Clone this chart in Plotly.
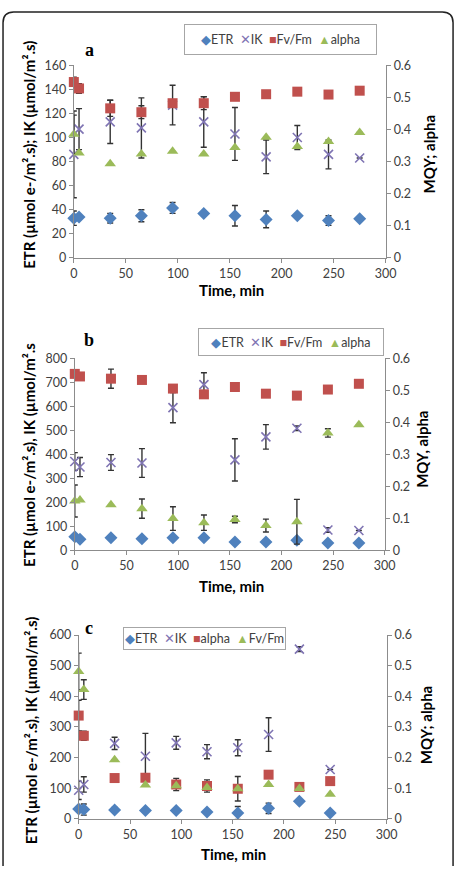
import plotly.graph_objects as go

W, H = 465, 873

# ---------------- data ----------------
t_ab = [0, 5, 35, 65, 95, 125, 155, 185, 215, 245, 275]
t_c = [0, 5, 35, 65, 95, 125, 155, 185, 215, 245]

# panel a
etr_a = [33, 34, 33, 35, 41.5, 37, 35, 32, 35, 31, 32.5]
etr_a_err = [6, 0, 4, 5, 4.5, 0, 8.5, 7, 0, 4, 0]
ik_a = [86, 107, 113, 108, 127, 113, 103, 84, 100, 86, 83]
ik_a_err = [36, 17, 18, 25, 16.5, 21, 22, 14, 10, 12, 0]
fv_a = [0.548, 0.528, 0.466, 0.454, 0.482, 0.482, 0.502, 0.510, 0.518, 0.509, 0.521]
fv_a_err = [0.015, 0.015, 0.025, 0.02, 0, 0.02, 0, 0, 0, 0.01, 0]
alpha_a = [0.385, 0.327, 0.293, 0.324, 0.332, 0.324, 0.344, 0.376, 0.347, 0.363, 0.391]
alpha_a_err = [0.06, 0, 0, 0, 0, 0, 0, 0, 0, 0, 0]

# panel b
etr_b = [56, 46, 52, 48, 52, 52, 34, 34, 41, 30, 30]
etr_b_err = [10, 0, 0, 0, 0, 0, 0, 8, 10, 0, 0]
ik_b = [370, 347, 366, 364, 595, 691, 377, 473, 509, 84, 82]
ik_b_err = [37, 40, 33, 60, 63, 50, 88, 51, 10, 10, 0]
fv_b = [0.552, 0.544, 0.537, 0.533, 0.506, 0.488, 0.511, 0.490, 0.484, 0.503, 0.521]
fv_b_err = [0, 0, 0.03, 0, 0, 0, 0, 0, 0, 0.01, 0]
alpha_b = [0.154, 0.157, 0.142, 0.130, 0.099, 0.086, 0.096, 0.077, 0.089, 0.367, 0.393]
alpha_b_err = [0.05, 0, 0, 0.03, 0.037, 0.024, 0.01, 0.02, 0.07, 0.013, 0]

# panel c
etr_c = [32, 30, 29, 27, 27, 22.5, 19, 34, 57, 19]
etr_c_err = [0, 18, 8, 0, 0, 0, 21, 17, 0, 0]
ik_c = [93, 112, 246, 204, 248, 219, 232, 275, 554, 161]
ik_c_err = [30, 25, 20, 75, 21, 23, 26, 55, 8, 0]
alpha_c = [0.337, 0.271, 0.133, 0.134, 0.112, 0.107, 0.098, 0.144, 0.104, 0.123]
alpha_c_err = [0.05, 0.015, 0, 0, 0.02, 0.02, 0.04, 0, 0, 0]
fv_c = [0.481, 0.422, 0.193, 0.110, 0.108, 0.102, 0.098, 0.112, 0.099, 0.080]
fv_c_err = [0.06, 0.032, 0, 0, 0, 0, 0, 0, 0, 0]

x_ticks = [0, 50, 100, 150, 200, 250, 300]
y_ticks_a = [0, 20, 40, 60, 80, 100, 120, 140, 160]
y_ticks_b = [0, 100, 200, 300, 400, 500, 600, 700, 800]
y_ticks_c = [0, 100, 200, 300, 400, 500, 600]
right_ticks = [0, 0.1, 0.2, 0.3, 0.4, 0.5, 0.6]
right_tick_text = ["0", "0.1", "0.2", "0.3", "0.4", "0.5", "0.6"]

# ---------------- styles ----------------
C_ETR = "#4F81BD"
C_IK = "#7F74B3"
C_RED = "#C0504D"
C_GREEN = "#9BBB59"
ERR_COLOR = "#333333"
AX_COLOR = "#8C8C8C"
FONT = "Lato, Carlito, Calibri, sans-serif"
EPS = 1.0015  # tiny headroom so the top tick label is kept


def px(x):
    return x / W


def py(y):
    return 1 - y / H


def err(arr):
    return dict(type="data", array=arr, visible=True, color=ERR_COLOR, thickness=1.4, width=3)


def add(fig, x, y, e, xa, ya, symbol, color, size=10, line=None):
    marker = dict(symbol=symbol, color=color, size=size)
    if line:
        marker["line"] = line
    fig.add_trace(go.Scatter(x=x, y=y, mode="markers", error_y=err(e), marker=marker,
                             xaxis=xa, yaxis=ya, cliponaxis=False, showlegend=False))


fig = go.Figure()

panels = [
    (t_ab, etr_a, etr_a_err, ik_a, ik_a_err,
     [(fv_a, fv_a_err, "square", C_RED), (alpha_a, alpha_a_err, "triangle-up", C_GREEN)], "x", "y", "y2"),
    (t_ab, etr_b, etr_b_err, ik_b, ik_b_err,
     [(fv_b, fv_b_err, "square", C_RED), (alpha_b, alpha_b_err, "triangle-up", C_GREEN)], "x2", "y3", "y4"),
    (t_c, etr_c, etr_c_err, ik_c, ik_c_err,
     [(alpha_c, alpha_c_err, "square", C_RED), (fv_c, fv_c_err, "triangle-up", C_GREEN)], "x3", "y5", "y6"),
]

for t, etr, etre, ik, ike, right, xa, yl, yr in panels:
    add(fig, t, etr, etre, xa, yl, "diamond", C_ETR, size=10)
    add(fig, t, ik, ike, xa, yl, "x-thin-open", C_IK, size=9, line=dict(color=C_IK, width=1.6))
    for vals, e, sym, col in right:
        add(fig, t, vals, e, xa, yr, sym, col, size=10)

axis_common = dict(showline=True, linecolor=AX_COLOR, linewidth=1, ticks="outside", ticklen=4,
                   tickcolor=AX_COLOR, showgrid=False, zeroline=False,
                   ticklabeloverflow="allow",
                   tickfont=dict(family=FONT, size=12.5, color="#404040"))

geo = [(72, 394, 59, 255), (73, 393, 357, 552), (77, 395, 638, 825)]
left_ticks = [y_ticks_a, y_ticks_b, y_ticks_c]

layout = dict(width=W, height=H, margin=dict(l=0, r=0, t=0, b=0),
              paper_bgcolor="white", plot_bgcolor="white", showlegend=False,
              font=dict(family=FONT, color="#000"))

for i, ((l, r, t, b), ticks) in enumerate(zip(geo, left_ticks)):
    xname = "xaxis" if i == 0 else f"xaxis{i + 1}"
    yl = 2 * i + 1
    yr = 2 * i + 2
    ylname = "yaxis" if yl == 1 else f"yaxis{yl}"
    yrname = f"yaxis{yr}"
    xref = "x" if i == 0 else f"x{i + 1}"
    ylref = "y" if yl == 1 else f"y{yl}"
    layout[xname] = dict(axis_common, domain=[px(l), px(r)], anchor=ylref,
                         range=[x_ticks[0], x_ticks[-1] * EPS], tickmode="array", tickvals=x_ticks)
    layout[ylname] = dict(axis_common, domain=[py(b), py(t)], anchor=xref,
                          range=[ticks[0], ticks[-1] * EPS], tickmode="array", tickvals=ticks)
    layout[yrname] = dict(axis_common, overlaying=ylref, side="right", anchor=xref,
                          range=[right_ticks[0], right_ticks[-1] * EPS], tickmode="array",
                          tickvals=right_ticks, ticktext=right_tick_text)

fig.update_layout(**layout)

# ---------------- annotations ----------------
ann = []


def legend_text(items):
    parts = []
    for sym, col, name in items:
        parts.append(f'<span style="color:{col}">{sym}</span>{name}')
    return "\u00a0\u00a0".join(parts)


legends = [
    ((189, 382, 18, 49), [("◆", C_ETR, "ETR"), ("✕", C_IK, "IK"), ("■", C_RED, "Fv/Fm"), ("▲", C_GREEN, "alpha")]),
    ((203, 389, 326, 354), [("◆", C_ETR, "ETR"), ("✕", C_IK, "IK"), ("■", C_RED, "Fv/Fm"), ("▲", C_GREEN, "alpha")]),
    ((125, 288, 630, 653), [("◆", C_ETR, "ETR"), ("✕", C_IK, "IK"), ("■", C_RED, "alpha"), ("▲", C_GREEN, "Fv/Fm")]),
]
for (l, r, t, b), items in legends:
    ann.append(dict(xref="paper", yref="paper", x=px((l + r) / 2), y=py((t + b) / 2),
                    xanchor="center", yanchor="middle", showarrow=False,
                    text=legend_text(items), font=dict(family=FONT, size=12.5, color="#404040"),
                    bordercolor="#A6A6A6", borderwidth=1, borderpad=0, bgcolor="white",
                    width=r - l - 2, height=b - t - 2))

letters = [("a", 88, 44), ("b", 88, 338), ("c", 88, 631)]
for s, x, y in letters:
    ann.append(dict(xref="paper", yref="paper", x=px(x), y=py(y), xanchor="center", yanchor="middle",
                    showarrow=False, text=f"<b>{s}</b>",
                    font=dict(family="Liberation Serif, Times New Roman, serif", size=18, color="#000")))

left_titles = [
    ("ETR (µmol e-/m².s); IK (µmol/m².s)", 25, 150),
    ("ETR (µmol e-/m².s), IK (µmol/m².s", 25, 455),
    ("ETR (µmol e-/m².s), IK (µmol/m².s)", 28, 735),
]
for s, x, y in left_titles:
    ann.append(dict(xref="paper", yref="paper", x=px(x), y=py(y), xanchor="center", yanchor="middle",
                    showarrow=False, text=f"<b>{s}</b>", textangle=-90,
                    font=dict(family=FONT, size=15, color="#000")))

right_titles = [("MQY; alpha", 438, 150), ("MQY, alpha", 431, 450), ("MQY; alpha", 435, 730)]
for s, x, y in right_titles:
    ann.append(dict(xref="paper", yref="paper", x=px(x), y=py(y), xanchor="center", yanchor="middle",
                    showarrow=False, text=f"<b>{s}</b>", textangle=-90,
                    font=dict(family=FONT, size=15, color="#000")))

x_titles = [("Time, min", 235, 288), ("Time, min", 235, 588), ("Time, min", 237, 861)]
for s, x, y in x_titles:
    ann.append(dict(xref="paper", yref="paper", x=px(x), y=py(y), xanchor="center", yanchor="middle",
                    showarrow=False, text=f"<b>{s}</b>",
                    font=dict(family=FONT, size=15, color="#000")))

fig.update_layout(annotations=ann)

path = (f"M {px(-1)},{py(H)} L {px(-1)},{py(16)} Q {px(-1)},{py(5)} {px(10)},{py(5)} "
        f"L {px(452)},{py(5)} Q {px(463)},{py(5)} {px(463)},{py(16)} L {px(463)},{py(H)}")
fig.add_shape(type="path", path=path, xref="paper", yref="paper",
              line=dict(color="#222222", width=1.5))

fig.write_html("out.html")
